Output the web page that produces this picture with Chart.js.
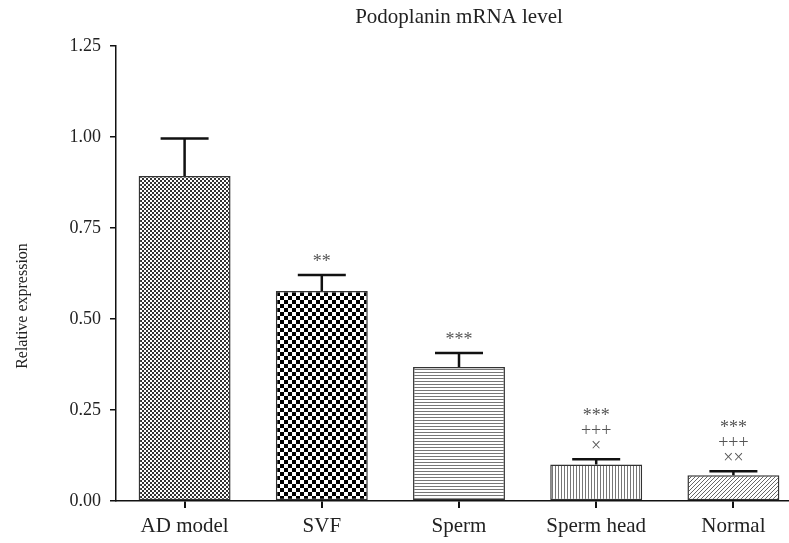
<!DOCTYPE html>
<html>
<head>
<meta charset="utf-8">
<script src="https://cdn.jsdelivr.net/npm/chart.js@4/dist/chart.umd.min.js"></script>
<style>
  html, body { margin: 0; padding: 0; background: #fff; overflow: hidden; }
  #wrap { width: 802px; height: 543px; position: relative; }
</style>
</head>
<body>
<div id="wrap"><canvas id="chart" width="802" height="543"></canvas></div>
<script>
const categories = ['AD model', 'SVF', 'Sperm', 'Sperm head', 'Normal'];
const means = [0.893, 0.577, 0.368, 0.100, 0.071];
const errors = [0.103, 0.044, 0.039, 0.015, 0.011];
const marks = [[], ['**'], ['***'], ['***', '+++', '×'], ['***', '+++', '××']];
const yTicks = [0, 0.25, 0.5, 0.75, 1.0, 1.25];
const yTitle = 'Relative expression';

// motifs de remplissage
function makePattern(kind) {
    const c = document.createElement('canvas');
    const ctx = c.getContext('2d');
    if (kind === 'fineCheck') {
        c.width = 4; c.height = 4;
        ctx.fillStyle = '#fff'; ctx.fillRect(0, 0, 4, 4);
        ctx.fillStyle = '#333';
        ctx.fillRect(0, 0, 2, 2); ctx.fillRect(2, 2, 2, 2);
    } else if (kind === 'check') {
        c.width = 8; c.height = 8;
        ctx.fillStyle = '#fff'; ctx.fillRect(0, 0, 8, 8);
        ctx.fillStyle = '#000';
        ctx.fillRect(0, 0, 4, 4); ctx.fillRect(4, 4, 4, 4);
    } else if (kind === 'hlines') {
        c.width = 3; c.height = 3;
        ctx.fillStyle = '#fff'; ctx.fillRect(0, 0, 3, 3);
        ctx.fillStyle = '#777'; ctx.fillRect(0, 0, 3, 1);
    } else if (kind === 'vlines') {
        c.width = 3; c.height = 3;
        ctx.fillStyle = '#fff'; ctx.fillRect(0, 0, 3, 3);
        ctx.fillStyle = '#777'; ctx.fillRect(0, 0, 1, 3);
    } else {
        c.width = 4; c.height = 4;
        ctx.fillStyle = '#fff'; ctx.fillRect(0, 0, 4, 4);
        ctx.strokeStyle = '#666'; ctx.lineWidth = 1;
        ctx.beginPath();
        ctx.moveTo(-1, 5); ctx.lineTo(5, -1);
        ctx.moveTo(-1, 1); ctx.lineTo(1, -1);
        ctx.moveTo(3, 5); ctx.lineTo(5, 3);
        ctx.stroke();
    }
    return c.getContext('2d').createPattern(c, 'repeat');
}
const fills = ['fineCheck', 'check', 'hlines', 'vlines', 'diag'].map(makePattern);

// barres d'erreur + annotations + titre de l'axe y
const errorPlugin = {
    id: 'errorBars',
    afterDatasetsDraw(chart) {
        const ctx = chart.ctx;
        const meta = chart.getDatasetMeta(0);
        const y = chart.scales.y;
        ctx.save();
        meta.data.forEach((bar, i) => {
            const top = y.getPixelForValue(means[i] + errors[i]);
            const base = y.getPixelForValue(means[i]);
            ctx.strokeStyle = '#111';
            ctx.lineWidth = 2.5;
            ctx.beginPath();
            ctx.moveTo(bar.x, base);
            ctx.lineTo(bar.x, top);
            ctx.moveTo(bar.x - 24, top);
            ctx.lineTo(bar.x + 24, top);
            ctx.stroke();
            ctx.fillStyle = '#555';
            ctx.font = '18px "Liberation Serif"';
            ctx.textAlign = 'center';
            ctx.textBaseline = 'alphabetic';
            const n = marks[i].length;
            marks[i].forEach((m, k) => {
                const yy = top - 8 - (n - 1 - k) * 15;
                ctx.fillText(m, bar.x, yy);
            });
        });
        // titre vertical
        ctx.translate(23, 306);
        ctx.rotate(-Math.PI / 2);
        ctx.fillStyle = '#222';
        ctx.font = '16px "Liberation Serif"';
        ctx.textAlign = 'center';
        ctx.textBaseline = 'middle';
        ctx.fillText(yTitle, 0, 0);
        ctx.restore();
    }
};

new Chart(document.getElementById('chart'), {
    type: 'bar',
    data: {
        labels: categories,
        datasets: [{
            data: means,
            backgroundColor: fills,
            borderColor: '#333',
            borderWidth: 1.5,
            borderSkipped: false,
            barPercentage: 0.67,
            categoryPercentage: 1
        }]
    },
    options: {
        responsive: false,
        animation: false,
        devicePixelRatio: 1,
        layout: { padding: { left: 0, right: 0, top: 0, bottom: 0 } },
        plugins: {
            legend: { display: false },
            tooltip: { enabled: false },
            title: {
                display: true,
                fullSize: false,
                text: 'Podoplanin mRNA level',
                color: '#222',
                font: { family: 'Liberation Serif', size: 21, weight: 'normal' },
                padding: { top: 5, bottom: 16 }
            }
        },
        scales: {
            x: {
                offset: true,
                afterFit: s => { s.height = 42; },
                border: { color: '#111', width: 1.5 },
                grid: { offset: false, drawOnChartArea: false, tickLength: 7, color: '#111', lineWidth: 2 },
                ticks: { color: '#222', padding: 6, maxRotation: 0, autoSkip: false, font: { family: 'Liberation Serif', size: 21 } }
            },
            y: {
                min: 0,
                max: 1.25,
                afterFit: s => { s.width = 116; },
                afterBuildTicks: s => { s.ticks = yTicks.map(v => ({ value: v })); },
                border: { color: '#111', width: 1.5 },
                grid: { drawOnChartArea: false, tickLength: 6, color: '#111', lineWidth: 1.5 },
                ticks: {
                    color: '#222',
                    padding: 9,
                    autoSkip: false,
                    font: { family: 'Liberation Serif', size: 18 },
                    callback: v => Number(v).toFixed(2)
                }
            }
        }
    },
    plugins: [errorPlugin]
});
</script>
</body>
</html>
